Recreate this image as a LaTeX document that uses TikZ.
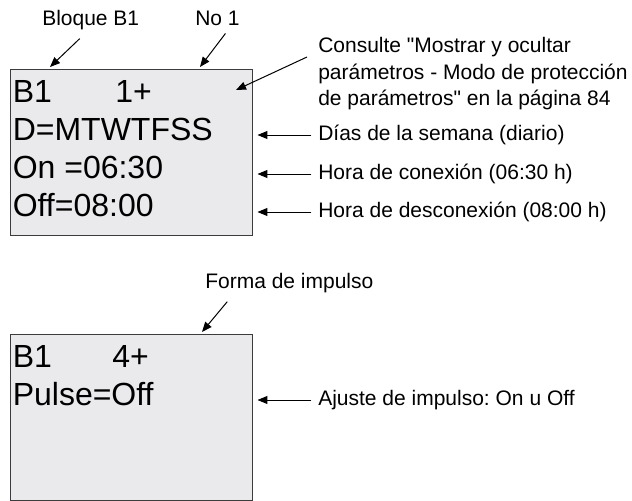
\documentclass[tikz,border=0pt]{standalone}
\usepackage{fontspec}
\setmainfont{Liberation Sans}
\usepackage{xcolor}
\usetikzlibrary{arrows.meta, positioning, calc}

\definecolor{lcdfill}{RGB}{234,234,236}
\definecolor{lcdedge}{RGB}{60,60,60}
\frenchspacing

\begin{document}
\begin{tikzpicture}[x=0.75pt, y=-0.75pt,
    lcd/.style={draw=lcdedge, fill=lcdfill, line width=1.1pt, anchor=north west, inner sep=0pt, minimum width=181.5pt, minimum height=124.5pt},
    lcdtext/.style={anchor=base west, inner sep=0pt, font=\fontsize{24}{28}\selectfont},
    label/.style={anchor=base west, inner sep=0pt, font=\fontsize{15.75}{19.9}\selectfont},
    note/.style={anchor=west, inner sep=0pt, align=left, font=\fontsize{15.75}{19.9}\selectfont},
    arrow/.style={-{Triangle[length=7.5pt, width=6pt]}, line width=0.75pt}
]
    \useasboundingbox (0,0) rectangle (632,500);

    % first screen
    \node[lcd] (lcdA) at (10,69) {};
    \node[lcdtext] (blockA) at (12.5,102) {B1};
    \node[lcdtext] (numA) at (115,102) {1+};
    \node[lcdtext] (days) at (12.5,140) {D=MTWTFSS};
    \node[lcdtext] (on) at (12.5,178) {On =06:30};
    \node[lcdtext] (off) at (12.5,216) {Off=08:00};

    \node[label] (bloque) at (42,25) {Bloque B1};
    \node[label] (no) at (195,25) {No 1};
    \node[note, anchor=north west] (consult) at (318,37) {Consulte \textquotedbl Mostrar y ocultar\\parámetros - Modo de protección\\de parámetros\textquotedbl\ en la página 84};
    \node[note] (daysnote) at (318,135) {Días de la semana (diario)};
    \node[note] (onnote) at (318,174) {Hora de conexión (06:30 h)};
    \node[note] (offnote) at (318,212) {Hora de desconexión (08:00 h)};

    \coordinate (bloquetip) at (50,67);
    \coordinate (notip) at (200,67);
    \coordinate (consulttip) at (236,90);

    \draw[arrow] ([shift={(-11,9)}]bloque.south) -- (bloquetip);
    \draw[arrow] ([shift={(8,8)}]no.south) -- (notip);
    \draw[arrow] ([shift={(-11,20)}]consult.north west) -- (consulttip);
    \draw[arrow] ([xshift=-5]daysnote.west) -- ([xshift=3]daysnote.west -| lcdA.east);
    \draw[arrow] ([xshift=-5]onnote.west) -- ([xshift=3]onnote.west -| lcdA.east);
    \draw[arrow] ([xshift=-5]offnote.west) -- ([xshift=3]offnote.west -| lcdA.east);

    % second screen
    \node[lcd] (lcdB) at (10,334) {};
    \node[lcdtext] (blockB) at (12.5,367) {B1};
    \node[lcdtext] (numB) at (112,367) {4+};
    \node[lcdtext] (pulse) at (12.5,405) {Pulse=Off};

    \node[label] (forma) at (205,288) {Forma de impulso};
    \node[note] (pulsenote) at (318,400) {Ajuste de impulso: On u Off};

    \coordinate (formatip) at (202,332);

    \draw[arrow] ([shift={(-62,9)}]forma.south) -- (formatip);
    \draw[arrow] ([xshift=-5]pulsenote.west) -- ([xshift=3]pulsenote.west -| lcdB.east);
\end{tikzpicture}
\end{document}
